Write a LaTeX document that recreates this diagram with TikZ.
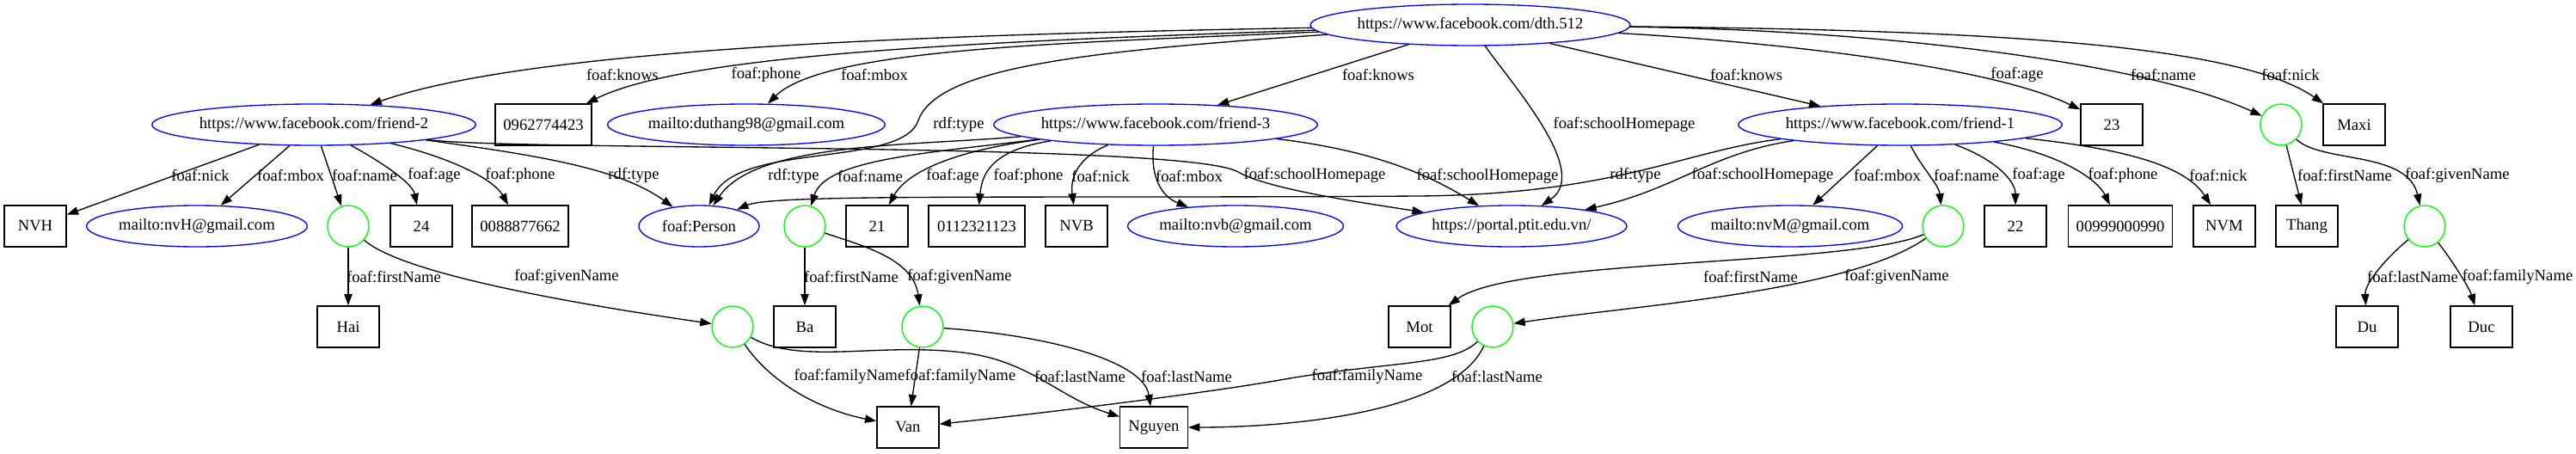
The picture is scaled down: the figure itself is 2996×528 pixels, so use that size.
\documentclass[tikz,border=0pt]{standalone}
\usepackage{fontspec}
\setmainfont{Liberation Serif}
\usetikzlibrary{shapes.geometric,arrows.meta}

\begin{document}
\begin{tikzpicture}[x=0.75pt, y=-0.75pt,
  uri/.style={ellipse, draw=blue, line width=1pt, minimum height=36pt, inner sep=0pt, font=\fontsize{14}{16}\selectfont},
  lit/.style={rectangle, draw, line width=1pt, minimum width=54pt, minimum height=36pt, inner sep=0pt, font=\fontsize{14}{16}\selectfont},
  blank/.style={circle, draw=green, line width=1pt, minimum size=36pt, inner sep=0pt},
  prop/.style={line width=1pt, -{Triangle[length=10pt,width=7pt]}},
  lbl/.style={inner sep=0pt, font=\fontsize{14}{16}\selectfont}]
\useasboundingbox (0,0) rectangle (2996,528);

% Subject
\node[uri, minimum width=279pt] (dth) at (1710,29) {https://www.facebook.com/dth.512};

% Row 1
\node[uri, minimum width=280pt] (friend2) at (365,145) {https://www.facebook.com/friend-2};
\node[lit, minimum width=84pt] (phone0) at (632,145) {0962774423};
\node[uri, minimum width=236pt] (mbox0) at (868,145) {mailto:duthang98@gmail.com};
\node[uri, minimum width=280pt] (friend3) at (1344,145) {https://www.facebook.com/friend-3};
\node[uri, minimum width=281pt] (friend1) at (2210,145) {https://www.facebook.com/friend-1};
\node[lit] (age0) at (2456,145) {23};
\node[blank] (name0) at (2653,145) {};
\node[lit] (nick0) at (2738,145) {Maxi};

% Row 2
\node[lit] (nick2) at (41,263) {NVH};
\node[uri, minimum width=190pt] (mbox2) at (229,263) {mailto:nvH@gmail.com};
\node[blank] (name2) at (405,263) {};
\node[lit] (age2) at (490,263) {24};
\node[lit, minimum width=84pt] (phone2) at (605,263) {0088877662};
\node[uri, minimum width=105pt] (person) at (813,263) {foaf:Person};
\node[blank] (name3) at (936,263) {};
\node[lit] (age3) at (1020,263) {21};
\node[lit, minimum width=84pt] (phone3) at (1136,263) {0112321123};
\node[lit] (nick3) at (1252,263) {NVB};
\node[uri, minimum width=188pt] (mbox3) at (1437,263) {mailto:nvb@gmail.com};
\node[uri, minimum width=201pt] (portal) at (1758,263) {https://portal.ptit.edu.vn/};
\node[uri, minimum width=194pt] (mbox1) at (2082,263) {mailto:nvM@gmail.com};
\node[blank] (name1) at (2260,263) {};
\node[lit] (age1) at (2344,263) {22};
\node[lit, minimum width=91pt] (phone1) at (2466,263) {00999000990};
\node[lit] (nick1) at (2587,263) {NVM};
\node[lit] (first0) at (2683,263) {Thang};
\node[blank] (given0) at (2820,263) {};

% Row 3
\node[lit] (first2) at (405,380) {Hai};
\node[blank] (given2) at (852,380) {};
\node[lit] (first3) at (936,380) {Ba};
\node[blank] (given3) at (1073,380) {};
\node[lit] (first1) at (1651,380) {Mot};
\node[blank] (given1) at (1736,380) {};
\node[lit] (last0) at (2753,380) {Du};
\node[lit] (family0) at (2886,380) {Duc};

% Row 4
\node[lit] (van) at (1056,497) {Van};
\node[lit, minimum width=59pt] (nguyen) at (1342,497) {Nguyen};

% Edges from dth.512
\draw[prop] (dth) .. controls (1100,40) and (620,55) .. (friend2) node[lbl, at={(724,87)}] (l1) {foaf:knows};
\draw[prop] (dth) .. controls (1150,48) and (800,62) .. (phone0) node[lbl, at={(891,87)}] (l2) {foaf:phone};
\draw[prop] (dth) .. controls (1250,50) and (960,55) .. (mbox0) node[lbl, at={(1017,87)}] (l3) {foaf:mbox};
\draw[prop] (dth) .. controls (1250,60) and (1090,80) .. (1068,140) .. controls (1050,195) and (860,165) .. (person) node[lbl, at={(1115,145)}] (l4) {rdf:type};
\draw[prop] (dth) -- (friend3) node[lbl, at={(1603,87)}] (l5) {foaf:knows};
\draw[prop] (dth) .. controls (1760,100) and (1850,200) .. (portal) node[lbl, at={(1889,145)}] (l6) {foaf:schoolHomepage};
\draw[prop] (dth) -- (friend1) node[lbl, at={(2031,87)}] (l7) {foaf:knows};
\draw[prop] (dth) .. controls (2000,45) and (2300,70) .. (age0) node[lbl, at={(2346,87)}] (l8) {foaf:age};
\draw[prop] (dth) .. controls (2200,35) and (2500,75) .. (name0) node[lbl, at={(2516,87)}] (l9) {foaf:name};
\draw[prop] (dth) .. controls (2300,35) and (2600,50) .. (nick0) node[lbl, at={(2664,87)}] (l10) {foaf:nick};

% Edges from friend-2
\draw[prop] (friend2) -- (nick2) node[lbl, at={(233,204)}] (l11) {foaf:nick};
\draw[prop] (friend2) -- (mbox2) node[lbl, at={(338,204)}] (l12) {foaf:mbox};
\draw[prop] (friend2) -- (name2) node[lbl, at={(424,204)}] (l13) {foaf:name};
\draw[prop] (friend2) .. controls (455,195) and (480,215) .. (age2) node[lbl, at={(505,204)}] (l14) {foaf:age};
\draw[prop] (friend2) .. controls (530,185) and (575,210) .. (phone2) node[lbl, at={(605,204)}] (l15) {foaf:phone};
\draw[prop] (friend2) .. controls (620,180) and (720,195) .. (person) node[lbl, at={(737,204)}] (l16) {rdf:type};
\draw[prop] (friend2) .. controls (600,176) and (1380,165) .. (1440,200) .. controls (1475,220) and (1580,235) .. (portal) node[lbl, at={(1529,204)}] (l17) {foaf:schoolHomepage};

% Edges from friend-3
\draw[prop] (friend3) .. controls (1060,170) and (880,165) .. (person) node[lbl, at={(923,205)}] (l18) {rdf:type};
\draw[prop] (friend3) .. controls (1080,178) and (960,185) .. (name3) node[lbl, at={(1012,205)}] (l19) {foaf:name};
\draw[prop] (friend3) .. controls (1110,175) and (1055,200) .. (age3) node[lbl, at={(1108,205)}] (l20) {foaf:age};
\draw[prop] (friend3) .. controls (1150,175) and (1142,205) .. (phone3) node[lbl, at={(1196,205)}] (l21) {foaf:phone};
\draw[prop] (friend3) .. controls (1250,185) and (1245,210) .. (nick3) node[lbl, at={(1280,205)}] (l22) {foaf:nick};
\draw[prop] (friend3) .. controls (1338,205) and (1350,228) .. (mbox3) node[lbl, at={(1383,205)}] (l23) {foaf:mbox};
\draw[prop] (friend3) .. controls (1600,175) and (1665,205) .. (portal) node[lbl, at={(1730,205)}] (l24) {foaf:schoolHomepage};

% Edges from friend-1
\draw[prop] (friend1) .. controls (1960,175) and (1880,226) .. (1650,228) .. controls (1200,231) and (900,225) .. (person) node[lbl, at={(1902,204)}] (l25) {rdf:type};
\draw[prop] (friend1) .. controls (1990,178) and (1950,220) .. (portal) node[lbl, at={(2050,204)}] (l26) {foaf:schoolHomepage};
\draw[prop] (friend1) -- (mbox1) node[lbl, at={(2195,204)}] (l27) {foaf:mbox};
\draw[prop] (friend1) .. controls (2235,195) and (2255,215) .. (name1) node[lbl, at={(2287,204)}] (l28) {foaf:name};
\draw[prop] (friend1) .. controls (2320,185) and (2344,210) .. (age1) node[lbl, at={(2371,204)}] (l29) {foaf:age};
\draw[prop] (friend1) .. controls (2400,180) and (2440,210) .. (phone1) node[lbl, at={(2469,204)}] (l30) {foaf:phone};
\draw[prop] (friend1) .. controls (2460,172) and (2540,190) .. (nick1) node[lbl, at={(2580,204)}] (l31) {foaf:nick};

% Name parts
\draw[prop] (name0) -- (first0) node[lbl, at={(2727,204)}] (l32) {foaf:firstName};
\draw[prop] (name0) .. controls (2700,190) and (2800,175) .. (given0) node[lbl, at={(2858,204)}] (l33) {foaf:givenName};
\draw[prop] (given0) .. controls (2775,300) and (2750,330) .. (last0) node[lbl, at={(2806,322)}] (l34) {foaf:lastName};
\draw[prop] (given0) .. controls (2850,300) and (2872,335) .. (family0) node[lbl, at={(2928,322)}] (l35) {foaf:familyName};

\draw[prop] (name2) -- (first2) node[lbl, at={(458,322)}] (l36) {foaf:firstName};
\draw[prop] (name2) .. controls (470,320) and (680,355) .. (given2) node[lbl, at={(659,322)}] (l37) {foaf:givenName};
\draw[prop] (name3) -- (first3) node[lbl, at={(990,322)}] (l38) {foaf:firstName};
\draw[prop] (name3) .. controls (1000,285) and (1062,300) .. (given3) node[lbl, at={(1116,322)}] (l39) {foaf:givenName};
\draw[prop] (name1) .. controls (2150,310) and (1760,300) .. (first1) node[lbl, at={(2036,322)}] (l40) {foaf:firstName};
\draw[prop] (name1) .. controls (2150,340) and (1900,355) .. (given1) node[lbl, at={(2206,322)}] (l41) {foaf:givenName};

\draw[prop] (given2) .. controls (900,450) and (960,478) .. (van) node[lbl, at={(988,438)}] (l42) {foaf:familyName};
\draw[prop] (given2) .. controls (930,425) and (1020,398) .. (1120,410) .. controls (1200,420) and (1230,462) .. (nguyen) node[lbl, at={(1256,438)}] (l43) {foaf:lastName};
\draw[prop] (given3) -- (van) node[lbl, at={(1117,438)}] (l44) {foaf:familyName};
\draw[prop] (given3) .. controls (1220,390) and (1330,420) .. (nguyen) node[lbl, at={(1380,438)}] (l45) {foaf:lastName};
\draw[prop] (given1) .. controls (1690,425) and (1620,420) .. (1500,440) .. controls (1400,458) and (1200,482) .. (van) node[lbl, at={(1590,438)}] (l46) {foaf:familyName};
\draw[prop] (given1) .. controls (1690,480) and (1500,497) .. (nguyen) node[lbl, at={(1741,438)}] (l47) {foaf:lastName};

\end{tikzpicture}
\end{document}
